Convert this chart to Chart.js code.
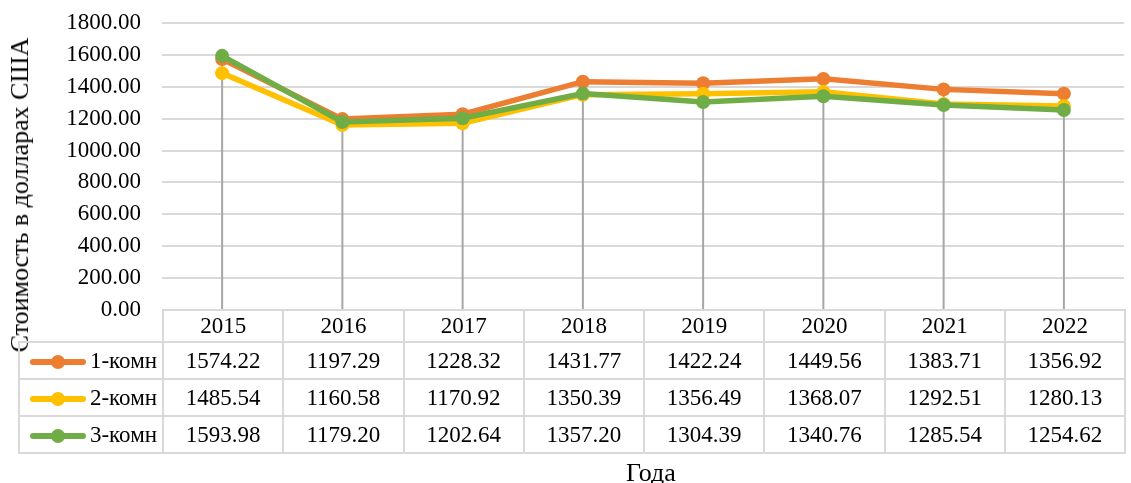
<!DOCTYPE html>
<html>
<head>
<meta charset="utf-8">
<script src="https://cdn.jsdelivr.net/npm/chart.js@4"></script>
<style>
  body { margin: 0; background: #fff; }
  #marco { position: relative; width: 1131px; height: 483px; font-family: "Liberation Serif", "Times New Roman", serif; color: #000; }
  #grafico { position: absolute; left: 0; top: 0; }
  #tituloY { position: absolute; left: 20px; top: 195px; transform: translate(-50%, -50%) rotate(-90deg); font-size: 26px; white-space: nowrap; }
  #tituloX { position: absolute; left: 651px; top: 473px; transform: translate(-50%, -50%); font-size: 26px; }
  #tabla { position: absolute; border-collapse: collapse; table-layout: fixed; font-size: 23px; }
  #tabla td { border: 2px solid #d9d9d9; text-align: center; padding: 0; white-space: nowrap; }
  #tabla td.vacia { border-top: none; border-left: none; }
  .clave { display: inline-block; position: relative; width: 56px; height: 14px; vertical-align: middle; margin-right: 4px; }
  .clave .raya { position: absolute; left: 0; right: 0; top: 4px; height: 6px; border-radius: 3px; }
  .clave .punto { position: absolute; left: 21px; top: 0; width: 14px; height: 14px; border-radius: 50%; }
</style>
</head>
<body>
<div id="marco">
  <canvas id="grafico" width="1131" height="483"></canvas>
  <div id="tituloY">Стоимость в долларах США</div>
  <div id="tituloX">Года</div>
  <table id="tabla"></table>
</div>
<script>
// DATOS
const anios = ['2015', '2016', '2017', '2018', '2019', '2020', '2021', '2022'];
const komn1 = [1574.22, 1197.29, 1228.32, 1431.77, 1422.24, 1449.56, 1383.71, 1356.92];
const komn2 = [1485.54, 1160.58, 1170.92, 1350.39, 1356.49, 1368.07, 1292.51, 1280.13];
const komn3 = [1593.98, 1179.20, 1202.64, 1357.20, 1304.39, 1340.76, 1285.54, 1254.62];
const nombres = ['1-комн', '2-комн', '3-комн'];
const colores = ['#ED7D31', '#FFC000', '#70AD47'];
const series = [komn1, komn2, komn3];

// lineas verticales desde el punto mas alto hasta el eje
const lineasCaida = {
  id: 'lineasCaida',
  beforeDatasetsDraw(chart) {
    const { ctx, chartArea, scales: { x, y } } = chart;
    ctx.save();
    ctx.strokeStyle = '#a6a6a6';
    ctx.lineWidth = 2;
    anios.forEach((a, i) => {
      const max = Math.max(komn1[i], komn2[i], komn3[i]);
      const px = x.getPixelForValue(i);
      ctx.beginPath();
      ctx.moveTo(px, y.getPixelForValue(max));
      ctx.lineTo(px, chartArea.bottom);
      ctx.stroke();
    });
    ctx.restore();
  }
};

const grafico = new Chart(document.getElementById('grafico'), {
  type: 'line',
  data: {
    labels: anios,
    datasets: series.map((datos, i) => ({
      label: nombres[i],
      data: datos,
      borderColor: colores[i],
      backgroundColor: colores[i],
      borderWidth: 5.5,
      pointRadius: 7,
      pointBorderWidth: 0,
      pointBackgroundColor: colores[i],
      tension: 0,
      order: 3 - i
    }))
  },
  options: {
    responsive: false,
    animation: false,
    layout: { padding: { top: 23, right: 1, bottom: 173, left: 0 } },
    plugins: { legend: { display: false }, tooltip: { enabled: false } },
    scales: {
      x: {
        offset: true,
        grid: { display: false },
        border: { display: false },
        ticks: { display: false },
        afterFit: s => { s.height = 0; s.paddingLeft = 0; s.paddingRight = 0; }
      },
      y: {
        min: 0,
        max: 1800,
        grid: { color: '#d9d9d9', lineWidth: 2, drawTicks: false },
        border: { display: false },
        ticks: {
          stepSize: 200,
          padding: 21,
          color: '#000',
          font: { family: '"Liberation Serif", serif', size: 23 },
          callback: v => v.toFixed(2)
        },
        afterFit: s => { s.width = 162; s.paddingTop = 0; s.paddingBottom = 0; }
      }
    }
  },
  plugins: [lineasCaida]
});

// TABLA DE DATOS
function construirTabla() {
  const area = grafico.chartArea;
  const ancho = area.width / anios.length;
  const tabla = document.getElementById('tabla');
  const izq = 18;
  tabla.style.left = izq + 'px';
  tabla.style.top = (area.bottom - 1) + 'px';
  tabla.style.width = (area.right - izq) + 'px';

  let html = `<colgroup><col style="width:${area.left - izq}px">` +
    anios.map(() => `<col style="width:${ancho}px">`).join('') + '</colgroup>';
  html += `<tr style="height:32px"><td class="vacia"></td>${anios.map(a => `<td>${a}</td>`).join('')}</tr>`;
  series.forEach((datos, i) => {
    html += `<tr style="height:37px"><td style="text-align:right;padding-right:5px">` +
      `<span class="clave"><span class="raya" style="background:${colores[i]}"></span>` +
      `<span class="punto" style="background:${colores[i]}"></span></span>${nombres[i]}</td>` +
      datos.map(v => `<td>${v.toFixed(2)}</td>`).join('') + '</tr>';
  });
  tabla.innerHTML = html;
}
construirTabla();
</script>
</body>
</html>
